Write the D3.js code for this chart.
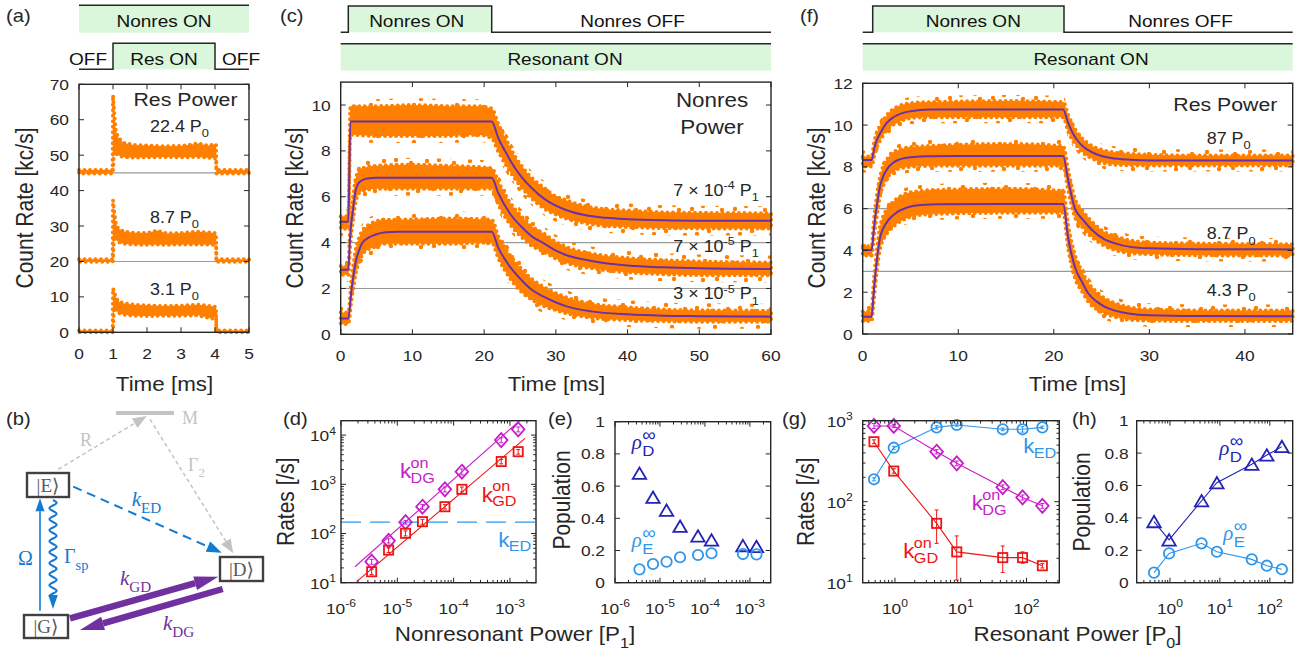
<!DOCTYPE html>
<html><head><meta charset="utf-8">
<script src="https://cdn.jsdelivr.net/npm/d3@7"></script>
<style>
html,body{margin:0;padding:0;background:#fff;}
svg{display:block;}
</style></head><body>
<svg id="fig" width="1301" height="656"></svg>
<script>
// ================= DATA =================
// (a) scatter clouds: [time ms, lower edge, upper edge] in kc/s
const aTrace22 = [[0,44.8,45.8],[0.99,44.8,45.8],[1.0,45.6,66.9],[1.03,51,62.5],[1.08,50.5,57],[1.15,50,55],[1.3,49.5,53.5],[1.6,49.3,52.9],[2.0,49.4,52.7],[2.5,49.5,52.5],[3.0,49.4,52.6],[3.5,49.5,53.3],[3.8,49.3,52.7],[4.03,49.1,53.1],[4.04,44.8,45.8],[5,44.8,45.8]];
const aTrace8 = [[0,19.9,20.6],[0.99,19.9,20.6],[1.0,20.6,37.3],[1.03,27,34.5],[1.08,26.5,31],[1.15,25.5,29.3],[1.3,25,28.5],[1.6,24.8,28.1],[2.0,24.7,28.0],[2.3,24.8,28.7],[2.6,24.7,27.9],[3.0,24.8,28.0],[3.5,24.8,28.4],[4.03,24.7,28.0],[4.04,19.9,20.6],[5,19.9,20.6]];
const aTrace3 = [[0,0.0,0.5],[0.99,0.0,0.5],[1.0,0.6,12.4],[1.03,7,11.5],[1.08,6.3,10],[1.15,5.5,8.8],[1.3,5,8.2],[1.6,4.7,7.8],[2.0,4.6,7.6],[2.5,4.7,7.4],[3.0,4.7,7.5],[3.5,4.8,7.8],[3.95,3.8,7.3],[4.03,5,7.1],[4.04,0.0,0.5],[5,0.0,0.5]];
const aOffsets = [45, 20];
const aTimeTicks = [0,1,2,3,4,5];
const aRateTicks = [0,10,20,30,40,50,60,70];

// (c) rows: [time ms, fit, dense-cloud lower, dense-cloud upper] in kc/s
const cTrace7e4 = [[0,4.91,4.6,5.15],[1.06,4.91,4.6,5.15],[1.35,9.28,8.7,9.95],[5,9.28,8.65,9.95],[10,9.28,8.65,10.0],[15,9.28,8.65,9.95],[19,9.28,8.7,9.95],[21.05,9.28,8.55,9.85],[22,8.54,7.95,9.15],[23,7.95,7.4,8.55],[23.6,7.6,7.1,8.15],[25.2,6.87,6.4,7.35],[26.7,6.36,5.9,6.8],[28.3,5.93,5.5,6.4],[29.8,5.64,5.25,6.05],[31.4,5.42,5.05,5.85],[34,5.2,4.85,5.6],[37,5.08,4.72,5.45],[40,5.02,4.68,5.4],[45,4.97,4.63,5.32],[50,4.95,4.62,5.3],[60,4.95,4.62,5.28]];
const cTrace7e5 = [[0,2.81,2.6,2.98],[1.06,2.81,2.6,2.98],[1.27,4.0,3.6,4.4],[1.45,4.8,4.3,5.3],[1.65,5.27,4.8,5.8],[2.1,6.29,5.8,6.8],[2.7,6.66,6.2,7.2],[3.7,6.8,6.3,7.3],[5,6.83,6.35,7.35],[10,6.83,6.35,7.4],[15,6.83,6.35,7.35],[21.05,6.83,6.35,7.25],[22,6.14,5.65,6.65],[23.6,5.27,4.8,5.75],[25.2,4.69,4.25,5.15],[26.7,4.26,3.85,4.7],[28.3,3.97,3.6,4.4],[29.8,3.68,3.33,4.07],[31.4,3.46,3.12,3.82],[35,3.2,2.88,3.52],[40,3.0,2.7,3.33],[45,2.92,2.62,3.23],[50,2.88,2.58,3.18],[60,2.85,2.57,3.13]];
const cTrace3e5 = [[0,0.69,0.45,0.95],[1.06,0.69,0.45,0.95],[1.5,1.93,1.5,2.4],[1.8,2.6,2.1,3.1],[2.1,3.17,2.65,3.7],[2.5,3.6,3.1,4.15],[2.98,3.97,3.45,4.5],[3.8,4.2,3.7,4.75],[4.7,4.33,3.8,4.9],[6.3,4.45,3.95,5.0],[8,4.47,3.95,5.0],[15,4.47,3.95,5.05],[21.05,4.47,4.0,5.0],[22,3.76,3.3,4.25],[23.6,2.95,2.45,3.45],[25.2,2.37,1.85,2.85],[26.7,1.93,1.5,2.4],[28.3,1.64,1.23,2.07],[29.8,1.42,1.07,1.82],[31.4,1.23,0.92,1.62],[35,1.0,0.72,1.33],[40,0.87,0.62,1.18],[45,0.81,0.57,1.08],[50,0.79,0.55,1.05],[60,0.77,0.55,1.03]];
const cOffsets = [4, 2];
const cTimeTicks = [0,10,20,30,40,50,60];
const cRateTicks = [0,2,4,6,8,10];

// (f) rows: [time ms, fit, dense-cloud lower, dense-cloud upper] in kc/s
const fTrace87 = [[0,8.33,8.02,8.5],[0.94,8.33,8.02,8.5],[1.2,8.88,8.5,9.2],[1.5,9.3,8.95,9.65],[2,9.74,9.4,10.1],[2.5,10.09,9.75,10.45],[3,10.31,9.95,10.7],[4,10.55,10.2,10.95],[5,10.66,10.33,11.05],[7,10.74,10.38,11.1],[15,10.75,10.38,11.15],[20.98,10.75,10.38,11.1],[21.5,10.1,9.7,10.5],[22,9.6,9.25,10.0],[22.5,9.25,8.95,9.6],[23,9.0,8.7,9.35],[24,8.7,8.4,9.0],[25,8.52,8.22,8.82],[26,8.42,8.12,8.72],[28,8.34,8.07,8.63],[30,8.31,8.06,8.58],[35,8.3,8.06,8.54],[45,8.3,8.06,8.54]];
const fTrace8p7 = [[0,4.02,3.76,4.2],[0.94,4.02,3.76,4.2],[1.1,4.7,4.3,5.1],[1.27,5.45,5.0,5.9],[1.5,6.2,5.7,6.7],[1.8,7.05,6.6,7.5],[2.2,7.6,7.15,8.1],[2.68,7.98,7.55,8.45],[3.2,8.2,7.75,8.7],[3.7,8.33,7.9,8.8],[5,8.46,8.0,8.95],[7,8.51,8.05,9.0],[15,8.52,8.05,9.1],[20.98,8.52,8.05,9.0],[21.5,7.37,6.9,7.85],[22.2,6.01,5.6,6.5],[23,5.5,5.1,5.9],[24,4.98,4.63,5.37],[25.3,4.53,4.22,4.88],[26.4,4.34,4.02,4.68],[28,4.17,3.87,4.48],[30,4.1,3.82,4.38],[35,4.06,3.77,4.33],[45,4.05,3.75,4.3]];
const fTrace4p3 = [[0,0.83,0.62,1.08],[0.94,0.83,0.62,1.08],[1.1,1.7,1.3,2.2],[1.27,2.58,2.1,3.1],[1.5,3.6,3.1,4.1],[1.8,4.58,4.05,5.1],[2.2,5.1,4.55,5.7],[2.68,5.45,4.9,6.05],[3.5,5.8,5.25,6.45],[4.4,6.01,5.5,6.7],[6.1,6.17,5.7,6.85],[8,6.21,5.75,6.9],[15,6.22,5.8,6.95],[20.98,6.22,5.8,6.85],[21.5,4.6,4.1,5.2],[22.2,3.22,2.7,3.8],[23,2.45,2.0,2.95],[23.6,1.95,1.55,2.45],[24.5,1.55,1.18,2.0],[25.3,1.31,0.97,1.72],[26.4,1.12,0.82,1.48],[28,0.97,0.68,1.28],[30,0.9,0.64,1.18],[35,0.86,0.62,1.13],[45,0.85,0.62,1.13]];
const fOffsets = [6, 3];
const fTimeTicks = [0,10,20,30,40];
const fRateTicks = [0,2,4,6,8,10,12];

// (d) rates vs nonresonant power [P1]
const nonresPower = [3.5e-6, 7e-6, 1.4e-5, 2.8e-5, 7e-5, 1.4e-4, 7e-4, 1.4e-3];
const kDGon_d = [26.7, 71, 170, 350, 790, 1800, 7900, 13100];
const kDGon_dErr = [3, 7, 15, 40, 90, 250, 900, 1500];
const kGDon_d = [16.7, 46, 101, 174, 350, 790, 2900, 4600];
const kGDon_dErr = [2, 5, 12, 20, 35, 90, 300, 500];
const kDGfit_d = [[1.77e-6, 21.1], [1.49e-3, 19600]];
const kGDfit_d = [[1.9e-6, 10.5], [1.85e-3, 8570]];
const kED_d = 170;
const dPowerExp = [-6, -5, -4, -3];
const dRateExp = [1, 2, 3, 4];

// (e) populations vs nonresonant power
const rhoD_e = [0.68, 0.53, 0.45, 0.35, 0.29, 0.265, 0.23, 0.225];
const rhoE_e = [0.083, 0.116, 0.13, 0.158, 0.172, 0.183, 0.178, 0.176];
const popTicks = [0, 0.2, 0.4, 0.6, 0.8, 1];

// (g) rates vs resonant power [P0]
const resPower = [0.48, 0.96, 4.3, 8.7, 43.5, 87, 174];
const kED_g = [189, 464, 828, 885, 783, 783, 828];
const kED_gErr = [8, 20, 40, 30, 30, 60, 30];
const kDG_g = [861, 861, 414, 298, 151, 113, 89];
const kDG_gErr = [60, 40, 25, 20, 10, 8, 6];
const kGD_g = [550, 239, 54, 24, 20.4, 20.4, 16.2];
const kGD_gLo = [520, 225, 30.6, 10.8, 13.4, 17.4, 15.2];
const kGD_gHi = [580, 255, 79, 37.8, 28.4, 24, 17.3];
const gPowerExp = [0, 1, 2];
const gRateExp = [1, 2, 3];

// (h) populations vs resonant power
const rhoD_h = [0.377, 0.264, 0.506, 0.617, 0.731, 0.788, 0.84];
const rhoE_h = [0.062, 0.181, 0.243, 0.191, 0.144, 0.105, 0.083];

// ================= STYLE =================
const ORANGE = '#ff8000', FIT = '#6c31a6', MAG = '#c81ec8', RED = '#ee1515',
      LBLUE = '#3096ea', DBLUE = '#2424b4', GREEN = '#dbf7db', AX = '#262626', GRAYLINE = '#9a9a9a',
      BBLUE = '#1479d0', BPURP = '#7030a0', BGRAY = '#c3c3c3';
const SX = 1.12;
const SANS = '"Liberation Sans", Arial, Helvetica, sans-serif';
const SERIF = '"Liberation Serif", "DejaVu Serif", serif';
const TICK = 15.5, ALAB = 20;

const svg = d3.select('#fig');

// texture used to render the sparse outer fringe of the scatter clouds
const defs = svg.append('defs');
const pat = defs.append('pattern').attr('id', 'sparse').attr('patternUnits', 'userSpaceOnUse')
  .attr('width', 43).attr('height', 37);
[[3,4],[17,2],[31,6],[40,13],[9,12],[24,15],[4,24],[15,21],[34,25],[27,31],[11,33],[39,35],[21,9],[29,20]].forEach(([x, y]) =>
  pat.append('circle').attr('cx', x).attr('cy', y).attr('r', 2.2).attr('fill', ORANGE));

function mkText(parent, x, y, size, anchor, color, opts = {}) {
  let tr = `translate(${x},${y}) scale(${opts.sx || SX},1)`;
  if (opts.rotate) tr += ` rotate(${opts.rotate})`;
  const t = parent.append('text').attr('transform', tr)
    .attr('font-size', size).attr('text-anchor', anchor || 'start')
    .style('fill', color || AX).style('font-family', opts.family || SANS);
  if (opts.italic) t.style('font-style', 'italic');
  return t;
}
function label(parent, x, y, str, size, anchor, color, opts) {
  return mkText(parent, x, y, size, anchor, color, opts).text(str);
}
function rich(parent, x, y, parts, size, anchor, color, opts) {
  const t = mkText(parent, x, y, size, anchor, color, opts);
  let cur = 0;
  parts.forEach(p => {
    const [s, k, st] = p;
    let target = 0, fs = size;
    if (k === 'sub') { target = size * 0.33; fs = size * 0.72; }
    if (k === 'sup') { target = -size * 0.42; fs = size * 0.7; }
    const sp = t.append('tspan').text(s).attr('font-size', fs).attr('dy', target - cur);
    if (st) sp.style('font-style', st);
    cur = target;
  });
  return t;
}

// ----- axes frame with inward ticks on all sides -----
function frame(P, xs, ys, xMaj, yMaj, xMin = [], yMin = []) {
  const g = svg.append('g').attr('stroke', AX).attr('stroke-width', 1);
  const L = 5, l = 2.8;
  const vt = (arr, len) => arr.forEach(v => {
    const x = xs(v);
    g.append('line').attr('x1', x).attr('x2', x).attr('y1', P.y1).attr('y2', P.y1 - len);
    g.append('line').attr('x1', x).attr('x2', x).attr('y1', P.y0).attr('y2', P.y0 + len);
  });
  const ht = (arr, len) => arr.forEach(v => {
    const y = ys(v);
    g.append('line').attr('y1', y).attr('y2', y).attr('x1', P.x0).attr('x2', P.x0 + len);
    g.append('line').attr('y1', y).attr('y2', y).attr('x1', P.x1).attr('x2', P.x1 - len);
  });
  vt(xMaj, L); ht(yMaj, L); vt(xMin, l); ht(yMin, l);
  svg.append('rect').attr('x', P.x0).attr('y', P.y0).attr('width', P.x1 - P.x0).attr('height', P.y1 - P.y0)
    .attr('fill', 'none').attr('stroke', AX).attr('stroke-width', 1.4);
}
function linXLabels(P, xs, vals, fmt = d => d) {
  vals.forEach(v => label(svg, xs(v), P.y1 + 27, fmt(v), TICK, 'middle'));
}
function linYLabels(P, ys, vals, fmt = d => d, gap = 9) {
  vals.forEach(v => label(svg, P.x0 - gap, ys(v) + 5.5, fmt(v), TICK, 'end'));
}
function logXLabels(P, xs, exps) {
  exps.forEach(e => rich(svg, xs(Math.pow(10, e)), P.y1 + 31, [['10', 'n'], [String(e), 'sup']], TICK, 'middle'));
}
function logYLabels(P, ys, exps, gap) {
  exps.forEach(e => rich(svg, P.x0 - gap, ys(Math.pow(10, e)) + 6, [['10', 'n'], [String(e), 'sup']], TICK, 'end'));
}
function minorLog(domain) {
  const out = [];
  const lo = Math.floor(Math.log10(domain[0])), hi = Math.ceil(Math.log10(domain[1]));
  for (let k = lo; k <= hi; k++) for (let m = 2; m <= 9; m++) {
    const v = m * Math.pow(10, k);
    if (v > domain[0] && v < domain[1]) out.push(v);
  }
  return out;
}

// ----- scatter cloud: sparse fringe + dense core with dotted edge -----
function cloud(xs, ys, rows, iLo, iHi, curve, fringe) {
  if (fringe > 0) {
    const halo = d3.area().x(d => xs(d[0])).y0(d => ys(d[iLo]) + fringe).y1(d => ys(d[iHi]) - fringe).curve(curve);
    svg.append('path').attr('d', halo(rows)).attr('fill', 'url(#sparse)');
  }
  const area = d3.area().x(d => xs(d[0])).y0(d => ys(d[iLo])).y1(d => ys(d[iHi])).curve(curve);
  svg.append('path').attr('d', area(rows)).attr('fill', ORANGE).attr('stroke', ORANGE)
    .attr('stroke-width', 4).attr('stroke-dasharray', '0 5.5').attr('stroke-linecap', 'round');
}
function fitLine(xs, ys, rows) {
  const ln = d3.line().x(d => xs(d[0])).y(d => ys(d[1])).curve(d3.curveMonotoneX);
  svg.append('path').attr('d', ln(rows)).attr('fill', 'none').attr('stroke', FIT).attr('stroke-width', 2);
}
function offsetLines(P, xs, ys, vals) {
  vals.forEach(v => svg.append('line').attr('x1', P.x0).attr('x2', P.x1).attr('y1', ys(v)).attr('y2', ys(v))
    .attr('stroke', GRAYLINE).attr('stroke-width', 1.1));
}

// ----- markers -----
function marker(g, type, x, y, color) {
  const sw = 1.8;
  if (type === 'diamond') g.append('path').attr('d', `M${x},${y-7}L${x+6.3},${y}L${x},${y+7}L${x-6.3},${y}Z`)
    .attr('fill', 'none').attr('stroke', color).attr('stroke-width', sw);
  if (type === 'square') g.append('rect').attr('x', x - 4.6).attr('y', y - 4.6).attr('width', 9.2).attr('height', 9.2)
    .attr('fill', 'none').attr('stroke', color).attr('stroke-width', sw);
  if (type === 'circle') g.append('circle').attr('cx', x).attr('cy', y).attr('r', 5.2)
    .attr('fill', 'none').attr('stroke', color).attr('stroke-width', sw);
  if (type === 'triangle') g.append('path').attr('d', `M${x},${y-5.8}L${x+6.7},${y+5.6}L${x-6.7},${y+5.6}Z`)
    .attr('fill', 'none').attr('stroke', color).attr('stroke-width', sw).attr('stroke-linejoin', 'miter');
}
function errBars(g, xs, ys, xv, lo, hi, color) {
  xv.forEach((v, i) => {
    const x = xs(v), y0 = ys(lo[i]), y1 = ys(hi[i]);
    g.append('line').attr('x1', x).attr('x2', x).attr('y1', y0).attr('y2', y1).attr('stroke', color).attr('stroke-width', 1);
    [y0, y1].forEach(yy => g.append('line').attr('x1', x - 2).attr('x2', x + 2).attr('y1', yy).attr('y2', yy).attr('stroke', color).attr('stroke-width', 1));
  });
}
function series(xs, ys, xv, yv, type, color, withLine) {
  const g = svg.append('g');
  if (withLine) {
    const ln = d3.line().x((d, i) => xs(xv[i])).y(d => ys(d));
    g.append('path').attr('d', ln(yv)).attr('fill', 'none').attr('stroke', color).attr('stroke-width', 1.1);
  }
  yv.forEach((v, i) => marker(g, type, xs(xv[i]), ys(v), color));
  return g;
}
function kLabel(x, y, sup, sub, color) {
  label(svg, x, y, 'k', 20, 'start', color);
  if (sup) label(svg, x + 10.5, y - 10.5, sup, 14.5, 'start', color);
  label(svg, x + 10.5, y + 4.5, sub, 14.5, 'start', color);
}
function rhoLabel(x, y, sub, color) {
  label(svg, x, y, '\u03C1', 21, 'start', color, {family: SERIF, italic: true, sx: 1});
  label(svg, x + 10.5, y - 8, '\u221E', 18, 'start', color, {family: SANS, sx: 1.05});
  label(svg, x + 10.5, y + 7, sub, 15, 'start', color);
}

// ----- schedule boxes -----
function greenRect(x0, x1, y0, y1) {
  svg.append('rect').attr('x', x0).attr('y', y0).attr('width', x1 - x0).attr('height', y1 - y0).attr('fill', GREEN);
}
function blackPath(d) {
  svg.append('path').attr('d', d).attr('fill', 'none').attr('stroke', AX).attr('stroke-width', 1.5);
}

// ================= PANEL (a) =================
const A = {x0: 79, x1: 249, y0: 84.3, y1: 332.3};
const ax = d3.scaleLinear().domain([0, 5]).range([A.x0, A.x1]);
const ay = d3.scaleLinear().domain([0, 70]).range([A.y1, A.y0]);
greenRect(A.x0, A.x1, 5.3, 32.7);
blackPath(`M${A.x0},5.3H${A.x1}`);
label(svg, 164, 27, 'Nonres ON', 17, 'middle', '#111');
greenRect(ax(1), ax(4), 43.3, 69.3);
blackPath(`M${A.x0},69.3H${ax(1)}V43.3H${ax(4)}V69.3H${A.x1}`);
label(svg, 88, 65, 'OFF', 17, 'middle', '#111');
label(svg, 164, 65, 'Res ON', 17, 'middle', '#111');
label(svg, 241, 65, 'OFF', 17, 'middle', '#111');
offsetLines(A, ax, ay, aOffsets);
[aTrace22, aTrace8, aTrace3].forEach(tr => cloud(ax, ay, tr, 1, 2, d3.curveLinear, 0));
frame(A, ax, ay, aTimeTicks, aRateTicks);
linXLabels(A, ax, aTimeTicks);
linYLabels(A, ay, aRateTicks, d => d, 10);
label(svg, 133.5, 106, 'Res Power', 19, 'start');
rich(svg, 150, 131.7, [['22.4 P', 'n'], ['0', 'sub']], 16, 'start');
rich(svg, 150, 222.7, [['8.7 P', 'n'], ['0', 'sub']], 16, 'start');
rich(svg, 150, 295, [['3.1 P', 'n'], ['0', 'sub']], 16, 'start');
label(svg, 33, 208, 'Count Rate [kc/s]', 21, 'middle', AX, {rotate: -90});
label(svg, 164.5, 391, 'Time [ms]', ALAB, 'middle');
label(svg, 6, 22, '(a)', 18, 'start');

// ================= PANEL (b): level diagram =================
function arrowTo(x1, y1, x2, y2, color, w, hl, hw, dash) {
  const ang = Math.atan2(y2 - y1, x2 - x1);
  const bx = x2 - hl * Math.cos(ang), by = y2 - hl * Math.sin(ang);
  svg.append('line').attr('x1', x1).attr('y1', y1).attr('x2', bx).attr('y2', by)
    .attr('stroke', color).attr('stroke-width', w).attr('stroke-dasharray', dash || null);
  const px = -Math.sin(ang), py = Math.cos(ang);
  svg.append('path').attr('d', `M${x2},${y2}L${bx + px * hw / 2},${by + py * hw / 2}L${bx - px * hw / 2},${by - py * hw / 2}Z`).attr('fill', color);
}
function stateBox(x, y, w, h, s) {
  svg.append('rect').attr('x', x).attr('y', y).attr('width', w).attr('height', h)
    .attr('fill', '#fff').attr('stroke', '#404040').attr('stroke-width', 2.4);
  label(svg, x + w / 2, y + h - 5, s, 19, 'middle', '#595959', {family: SERIF, sx: 1});
}
svg.append('line').attr('x1', 116).attr('x2', 174).attr('y1', 413).attr('y2', 413).attr('stroke', BGRAY).attr('stroke-width', 4);
label(svg, 182, 424, 'M', 18, 'start', BGRAY, {family: SERIF, sx: 1});
arrowTo(58.3, 469.3, 146.7, 416, BGRAY, 1.5, 14, 11, '4 3');
label(svg, 80, 446, 'R', 18, 'start', BGRAY, {family: SERIF, sx: 1});
arrowTo(150, 419.3, 233.3, 553.3, BGRAY, 1.5, 14, 11, '4 3');
rich(svg, 188, 471, [['\u0393', 'n'], ['2', 'sub']], 18, 'start', BGRAY, {family: SERIF, sx: 1});
arrowTo(73.3, 486.7, 221.7, 552.7, BBLUE, 2, 15, 11, '9 6');
rich(svg, 131.7, 506, [['k', 'n', 'italic'], ['ED', 'sub']], 21, 'start', BBLUE, {family: SERIF, sx: 1});
arrowTo(40, 610.7, 40, 498.3, BBLUE, 1.6, 13, 9);
label(svg, 18, 565, '\u03A9', 20, 'start', BBLUE, {family: SERIF, sx: 1});
{
  let d = 'M53,500';
  for (let y = 500; y <= 596; y += 1) d += `L${(53 + 3.6 * Math.sin((y - 500) / 11 * 2 * Math.PI)).toFixed(2)},${y}`;
  svg.append('path').attr('d', d).attr('fill', 'none').attr('stroke', BBLUE).attr('stroke-width', 2);
  svg.append('path').attr('d', 'M53,609L48.2,595L57.8,595Z').attr('fill', BBLUE);
}
rich(svg, 64, 563, [['\u0393', 'n'], ['sp', 'sub']], 20, 'start', BBLUE, {family: SERIF, sx: 1});
arrowTo(70, 618.3, 218.3, 576.7, BPURP, 6.5, 24, 14);
arrowTo(222.7, 589, 80, 630, BPURP, 6.5, 24, 14);
rich(svg, 120, 585, [['k', 'n', 'italic'], ['GD', 'sub']], 21, 'start', BPURP, {family: SERIF, sx: 1});
rich(svg, 163, 630, [['k', 'n', 'italic'], ['DG', 'sub']], 21, 'start', BPURP, {family: SERIF, sx: 1});
stateBox(27, 473, 42, 24, '|E\u27E9');
stateBox(24, 615, 44, 23, '|G\u27E9');
stateBox(220, 557, 43, 24, '|D\u27E9');
label(svg, 6, 425, '(b)', 18, 'start');

// ================= PANEL (c) =================
const C = {x0: 340.7, x1: 771, y0: 82.1, y1: 334.3};
const cx = d3.scaleLinear().domain([0, 60]).range([C.x0, C.x1]);
const cy = d3.scaleLinear().domain([0, 11]).range([C.y1, C.y0]);
greenRect(348.3, 491.7, 6, 32.3);
blackPath(`M${C.x0},32.3H348.3V6H491.7V32.3H${C.x1}`);
label(svg, 416.7, 26.7, 'Nonres ON', 17, 'middle', '#111');
label(svg, 632.5, 26.7, 'Nonres OFF', 17, 'middle', '#111');
greenRect(C.x0, C.x1, 43.7, 70.7);
blackPath(`M${C.x0},43.7H${C.x1}`);
label(svg, 565, 65, 'Resonant ON', 17, 'middle', '#111');
offsetLines(C, cx, cy, cOffsets);
[cTrace7e4, cTrace7e5, cTrace3e5].forEach(tr => cloud(cx, cy, tr, 2, 3, d3.curveMonotoneX, 7));
[cTrace7e4, cTrace7e5, cTrace3e5].forEach(tr => fitLine(cx, cy, tr));
frame(C, cx, cy, cTimeTicks, cRateTicks);
linXLabels(C, cx, cTimeTicks);
linYLabels(C, cy, cRateTicks, d => d, 10);
label(svg, 712, 106.7, 'Nonres', 20, 'middle');
label(svg, 712, 134, 'Power', 20, 'middle');
rich(svg, 673.3, 196, [['7 \u00D7 10', 'n'], ['-4', 'sup'], [' P', 'n'], ['1', 'sub']], 16, 'start');
rich(svg, 673.3, 251.7, [['7 \u00D7 10', 'n'], ['-5', 'sup'], [' P', 'n'], ['1', 'sub']], 16, 'start');
rich(svg, 673.3, 299.3, [['3 \u00D7 10', 'n'], ['-5', 'sup'], [' P', 'n'], ['1', 'sub']], 16, 'start');
label(svg, 303, 208, 'Count Rate [kc/s]', 21, 'middle', AX, {rotate: -90});
label(svg, 556.5, 391, 'Time [ms]', ALAB, 'middle');
label(svg, 280, 22, '(c)', 18, 'start');

// ================= PANEL (f) =================
const F = {x0: 862.7, x1: 1292.7, y0: 83.3, y1: 334};
const fx = d3.scaleLinear().domain([0, 45]).range([F.x0, F.x1]);
const fy = d3.scaleLinear().domain([0, 12]).range([F.y1, F.y0]);
greenRect(872.7, 1064, 6, 32.3);
blackPath(`M${F.x0},32.3H872.7V6H1064V32.3H${F.x1}`);
label(svg, 973.3, 26.7, 'Nonres ON', 17, 'middle', '#111');
label(svg, 1180.5, 26.7, 'Nonres OFF', 17, 'middle', '#111');
greenRect(F.x0, F.x1, 43.7, 70.7);
blackPath(`M${F.x0},43.7H${F.x1}`);
label(svg, 1091, 65, 'Resonant ON', 17, 'middle', '#111');
offsetLines(F, fx, fy, fOffsets);
[fTrace87, fTrace8p7, fTrace4p3].forEach(tr => cloud(fx, fy, tr, 2, 3, d3.curveMonotoneX, 6));
[fTrace87, fTrace8p7, fTrace4p3].forEach(tr => fitLine(fx, fy, tr));
frame(F, fx, fy, fTimeTicks, fRateTicks);
linXLabels(F, fx, fTimeTicks);
linYLabels(F, fy, fRateTicks, d => d, 10);
label(svg, 1173.3, 111, 'Res Power', 19, 'start');
rich(svg, 1206.7, 144, [['87 P', 'n'], ['0', 'sub']], 16, 'start');
rich(svg, 1206.7, 239.3, [['8.7 P', 'n'], ['0', 'sub']], 16, 'start');
rich(svg, 1206.7, 296, [['4.3 P', 'n'], ['0', 'sub']], 16, 'start');
label(svg, 825, 208, 'Count Rate [kc/s]', 21, 'middle', AX, {rotate: -90});
label(svg, 1077.5, 391, 'Time [ms]', ALAB, 'middle');
label(svg, 800, 22, '(f)', 18, 'start');

// ================= PANEL (d) =================
const D = {x0: 341, x1: 536, y0: 420.7, y1: 582.7};
const dDomX = [1e-6, 2.9e-3], dDomY = [10, 1.96e4];
const dx = d3.scaleLog().domain(dDomX).range([D.x0, D.x1]);
const dy = d3.scaleLog().domain(dDomY).range([D.y1, D.y0]);
svg.append('line').attr('x1', D.x0).attr('x2', D.x1).attr('y1', dy(kED_d)).attr('y2', dy(kED_d))
  .attr('stroke', LBLUE).attr('stroke-width', 1.4).attr('stroke-dasharray', '20 9');
const fitL = d3.line().x(d => dx(d[0])).y(d => dy(d[1]));
svg.append('path').attr('d', fitL(kDGfit_d)).attr('stroke', MAG).attr('stroke-width', 1.1).attr('fill', 'none');
svg.append('path').attr('d', fitL(kGDfit_d)).attr('stroke', RED).attr('stroke-width', 1.1).attr('fill', 'none');
{
  const g1 = series(dx, dy, nonresPower, kDGon_d, 'diamond', MAG, false);
  errBars(g1, dx, dy, nonresPower, kDGon_d.map((v, i) => v - kDGon_dErr[i]), kDGon_d.map((v, i) => v + kDGon_dErr[i]), MAG);
  const g2 = series(dx, dy, nonresPower, kGDon_d, 'square', RED, false);
  errBars(g2, dx, dy, nonresPower, kGDon_d.map((v, i) => v - kGDon_dErr[i]), kGDon_d.map((v, i) => v + kGDon_dErr[i]), RED);
}
frame(D, dx, dy, dPowerExp.map(e => Math.pow(10, e)), dRateExp.map(e => Math.pow(10, e)), minorLog(dDomX), minorLog(dDomY));
logXLabels(D, dx, dPowerExp);
logYLabels(D, dy, dRateExp, 5);
kLabel(400, 478.3, 'on', 'DG', MAG);
kLabel(481.7, 501.7, 'on', 'GD', RED);
kLabel(498.3, 546.7, null, 'ED', LBLUE);
label(svg, 294, 501.7, 'Rates [/s]', 21, 'middle', AX, {rotate: -90});
label(svg, 283, 425, '(d)', 18, 'start');

// ================= PANEL (e) =================
const E = {x0: 615, x1: 770.7, y0: 421.7, y1: 582.7};
const ex = d3.scaleLog().domain(dDomX).range([E.x0, E.x1]);
const ey = d3.scaleLinear().domain([0, 1]).range([E.y1, E.y0]);
series(ex, ey, nonresPower, rhoD_e, 'triangle', DBLUE, false);
series(ex, ey, nonresPower, rhoE_e, 'circle', LBLUE, false);
frame(E, ex, ey, dPowerExp.map(e => Math.pow(10, e)), popTicks, minorLog(dDomX), []);
logXLabels(E, ex, dPowerExp);
linYLabels(E, ey, popTicks, d => d, 10);
rhoLabel(631.7, 449, 'D', DBLUE);
rhoLabel(631.7, 547, 'E', LBLUE);
label(svg, 570, 500, 'Population', 21, 'middle', AX, {rotate: -90});
label(svg, 548, 425, '(e)', 18, 'start');
rich(svg, 515, 641, [['Nonresonant Power [P', 'n'], ['1', 'sub'], [']', 'n']], ALAB, 'middle');

// ================= PANEL (g) =================
const G = {x0: 862.7, x1: 1059.3, y0: 420.7, y1: 582.7};
const gDomX = [Math.pow(10, -0.49), Math.pow(10, 2.498)], gDomY = [10, 1000];
const gx = d3.scaleLog().domain(gDomX).range([G.x0, G.x1]);
const gy = d3.scaleLog().domain(gDomY).range([G.y1, G.y0]);
{
  const g1 = series(gx, gy, resPower, kED_g, 'circle', LBLUE, true);
  errBars(g1, gx, gy, resPower, kED_g.map((v, i) => v - kED_gErr[i]), kED_g.map((v, i) => v + kED_gErr[i]), LBLUE);
  const g2 = series(gx, gy, resPower, kDG_g, 'diamond', MAG, true);
  errBars(g2, gx, gy, resPower, kDG_g.map((v, i) => v - kDG_gErr[i]), kDG_g.map((v, i) => v + kDG_gErr[i]), MAG);
  const g3 = series(gx, gy, resPower, kGD_g, 'square', RED, true);
  errBars(g3, gx, gy, resPower, kGD_gLo, kGD_gHi, RED);
}
frame(G, gx, gy, gPowerExp.map(e => Math.pow(10, e)), gRateExp.map(e => Math.pow(10, e)), minorLog(gDomX), minorLog(gDomY));
logXLabels(G, gx, gPowerExp);
logYLabels(G, gy, gRateExp, 10);
kLabel(1023.3, 453.3, null, 'ED', LBLUE);
kLabel(971.7, 510, 'on', 'DG', MAG);
kLabel(903.3, 558.3, 'on', 'GD', RED);
label(svg, 814, 501.7, 'Rates [/s]', 21, 'middle', AX, {rotate: -90});
label(svg, 782, 425, '(g)', 18, 'start');

// ================= PANEL (h) =================
const H = {x0: 1136.7, x1: 1292.7, y0: 420.7, y1: 582.7};
const hDomX = [Math.pow(10, -0.666), Math.pow(10, 2.458)];
const hx = d3.scaleLog().domain(hDomX).range([H.x0, H.x1]);
const hy = d3.scaleLinear().domain([0, 1]).range([H.y1, H.y0]);
series(hx, hy, resPower, rhoD_h, 'triangle', DBLUE, true);
series(hx, hy, resPower, rhoE_h, 'circle', LBLUE, true);
frame(H, hx, hy, gPowerExp.map(e => Math.pow(10, e)), popTicks, minorLog(hDomX), []);
logXLabels(H, hx, gPowerExp);
linYLabels(H, hy, popTicks, d => d, 8);
rhoLabel(1219.3, 455, 'D', DBLUE);
rhoLabel(1223.3, 540, 'E', LBLUE);
label(svg, 1090, 502, 'Population', 21, 'middle', AX, {rotate: -90});
label(svg, 1072, 425, '(h)', 18, 'start');
rich(svg, 1077.5, 641, [['Resonant Power [P', 'n'], ['0', 'sub'], [']', 'n']], ALAB, 'middle');
</script>
</body></html>
